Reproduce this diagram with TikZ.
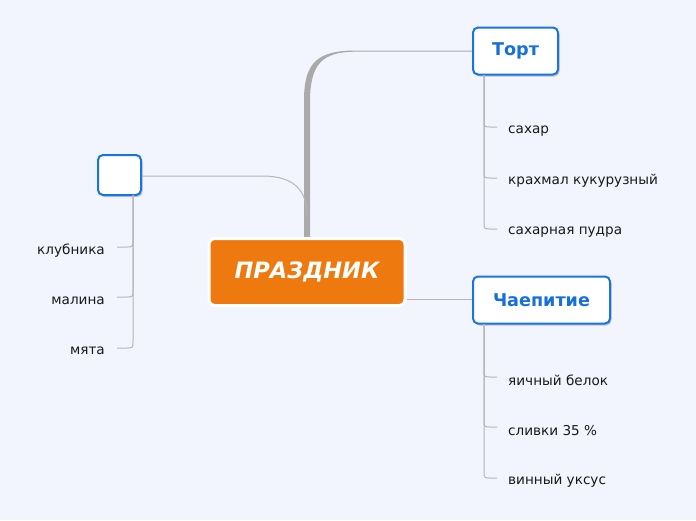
\documentclass[tikz,border=0pt]{standalone}
\usepackage{fontspec}
\setmainfont{DejaVu Sans}
\usetikzlibrary{shadows}
\definecolor{bg}{RGB}{242,245,253}
\definecolor{orangec}{RGB}{238,122,15}
\definecolor{blueb}{RGB}{24,116,224}
\definecolor{bluet}{RGB}{22,112,216}
\definecolor{trunk}{RGB}{170,170,170}
\definecolor{twig}{RGB}{182,182,186}
\begin{document}
\begin{tikzpicture}[x=1pt,y=-1pt,
  topic/.style={draw=blueb,line width=2pt,fill=white,rounded corners=5pt,
    drop shadow={shadow xshift=1.5pt,shadow yshift=-2pt,opacity=0.35,fill=black!60},
    font=\fontsize{17.6}{20}\selectfont\bfseries,text=bluet,inner sep=0pt},
  central/.style={draw=white,line width=3pt,fill=orangec,rounded corners=6pt,
    font=\fontsize{22.5}{26}\selectfont\bfseries\itshape,text=white,inner sep=0pt},
  leaf/.style={font=\fontsize{13.6}{16}\selectfont,text=black!90,inner sep=0pt},
  twigline/.style={draw=twig,line width=1pt},
  thinline/.style={draw=twig,line width=1pt}]
\fill[bg] (0,0) rectangle (696,520);
\useasboundingbox (0,0) rectangle (696,520);

% trunk to Tort (tapered)
\fill[trunk] (304,239) -- (304,100) .. controls (304,62) and (318,50.5) .. (356,50.5)
  -- (473,50.5) -- (473,51.7) -- (356,51.7) .. controls (322,51.7) and (310,64) .. (310,102) -- (310,239) -- cycle;

% nodes
\node[central,minimum width=196pt,minimum height=67pt] (c) at (307,272) {ПРАЗДНИК};
\node[topic,minimum width=85pt,minimum height=47pt] (tort) at (515.5,51) {\raisebox{-1.5pt}{Торт}};
\node[topic,minimum width=137pt,minimum height=47pt] (chai) at (541.5,300) {\raisebox{-1pt}{Чаепитие}};
\node[topic,minimum width=43pt,minimum height=40pt] (e) at (119.5,175) {};

% connectors
\coordinate (j) at (307,216);
\draw[thinline] (e.east |- 0,176) -- (262,176) .. controls (296,176) and (307,192) .. (j);
\draw[thinline] (c.east |- 0,299) -- (chai.west |- 0,299);

% leaves of Tort
\node[leaf,anchor=west] (t1) at (508,131) {сахар};
\node[leaf,anchor=west] (t2) at (508,181) {крахмал кукурузный};
\node[leaf,anchor=west] (t3) at (508,232) {сахарная пудра};
\foreach \n/\y in {t1/127,t2/178,t3/229}{
  \draw[twigline] (484,75) -- (484,\y-7) .. controls (484,\y) .. (491,\y) -- (497,\y);
}
% leaves of Chaepitie
\node[leaf,anchor=west] (c1) at (508,380) {яичный белок};
\node[leaf,anchor=west] (c2) at (508,431) {сливки 35 \%};
\node[leaf,anchor=west] (c3) at (508,481) {винный уксус};
\foreach \n/\y in {c1/377,c2/427,c3/478}{
  \draw[twigline] (484,324) -- (484,\y-7) .. controls (484,\y) .. (491,\y) -- (497,\y);
}
% leaves of empty node
\node[leaf,anchor=east] (e1) at (105,251) {клубника};
\node[leaf,anchor=east] (e2) at (105,301) {малина};
\node[leaf,anchor=east] (e3) at (105,351) {мята};
\foreach \n/\y in {e1/247,e2/297,e3/348}{
  \draw[twigline] (133,195) -- (133,\y-7) .. controls (133,\y) .. (126,\y) -- (117,\y);
}
\end{tikzpicture}
\end{document}
